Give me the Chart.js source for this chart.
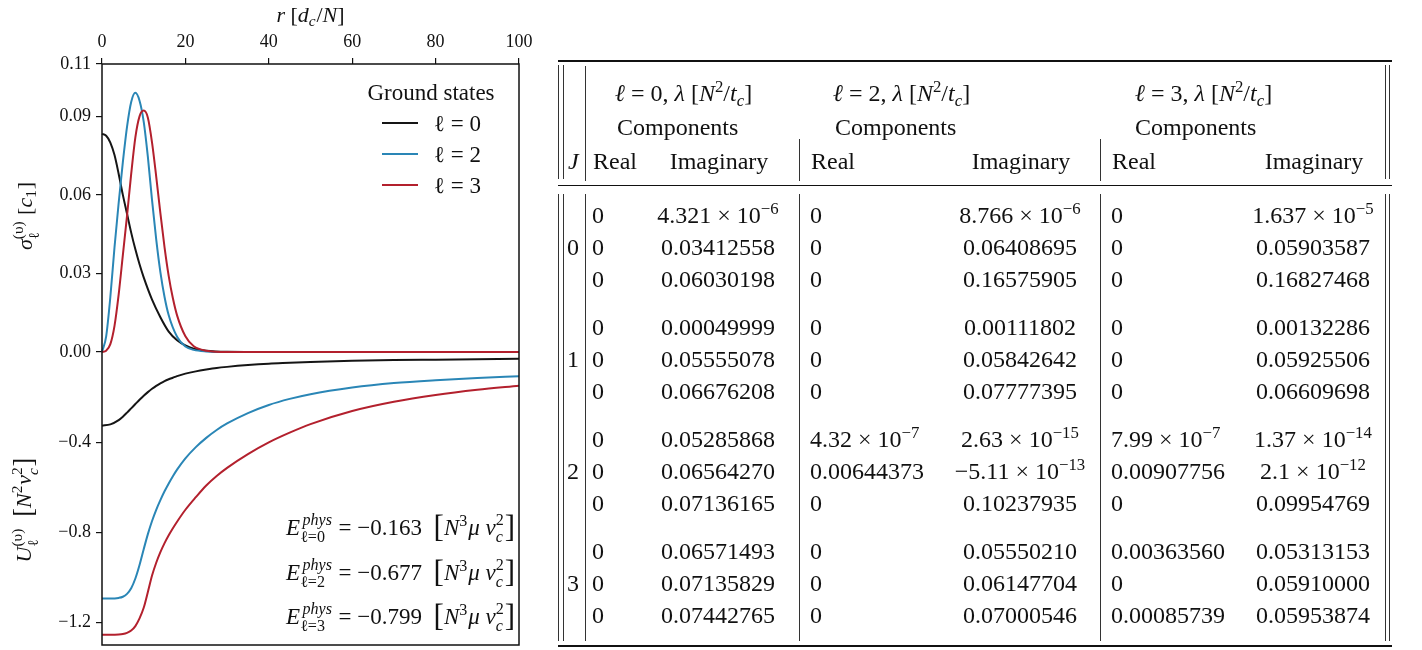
<!DOCTYPE html>
<html><head><meta charset="utf-8">
<script src="https://cdn.jsdelivr.net/npm/chart.js@4.4.1/dist/chart.umd.min.js"></script>
<style>
html,body{margin:0;padding:0;background:#fff;width:1422px;height:650px;overflow:hidden;}
#chartWrap{position:absolute;left:0;top:0;width:540px;height:650px;}
#tbl{position:absolute;left:0;top:0;width:1422px;height:650px;font-family:"Liberation Serif","DejaVu Serif",serif;font-size:24px;color:#111;pointer-events:none;}
.c{position:absolute;white-space:nowrap;height:32px;line-height:32px;}
.hl{position:absolute;background:#111;}
.vl{position:absolute;background:#333;width:1.3px;}
.sp{font-size:70%;position:relative;top:-0.55em;line-height:0;}
.sb{font-size:70%;position:relative;top:0.3em;line-height:0;}
</style></head>
<body>
<div id="chartWrap"><canvas id="c"></canvas></div>
<div id="tbl"></div>
<script>
// ---------- chart data ----------
const rSig0 = [0,1,2,3,4,5,6,7,8,9,10,12,14,16,18,20,22,25,30,40,60,80,100];
const sig0  = [0.0833,0.0826,0.0800,0.0752,0.0680,0.0600,0.0528,0.0456,0.0392,0.0335,0.0285,0.0200,0.0133,0.0078,0.0045,0.0025,0.0013,0.0005,0.0001,0,0,0,0];
const rSig2 = [0,1,2,3,4,5,6,7,8,9,10,11,12,13,14,15,16,18,20,22,25,30,40,60,80,100];
const sig2  = [0,0.0060,0.0210,0.0400,0.0570,0.0725,0.0860,0.0955,0.0990,0.0960,0.0880,0.0745,0.0580,0.0430,0.0305,0.0210,0.0140,0.0058,0.0021,0.0008,0.0002,0,0,0,0,0];
const rSig3 = [0,1,2,3,4,5,6,7,8,9,10,11,12,13,14,15,16,17,18,20,22,25,30,40,60,80,100];
const sig3  = [0,0.0005,0.0030,0.0100,0.0220,0.0370,0.0520,0.0680,0.0820,0.0900,0.0922,0.0895,0.0800,0.0670,0.0530,0.0400,0.0290,0.0205,0.0140,0.0060,0.0022,0.0005,0,0,0,0,0];
const rU = [0,2,4,5,6,7,8,9,10,11,12,13,14,15,16,17,18,20,22.5,25,27.5,30,35,40,45,50,60,70,80,90,100];
const U0 = [-0.327,-0.321,-0.302,-0.287,-0.269,-0.250,-0.231,-0.212,-0.194,-0.178,-0.163,-0.150,-0.139,-0.129,-0.121,-0.114,-0.107,-0.096,-0.086,-0.078,-0.071,-0.066,-0.058,-0.052,-0.048,-0.044,-0.039,-0.036,-0.034,-0.032,-0.030];
const U2 = [-1.094,-1.094,-1.091,-1.086,-1.073,-1.048,-1.005,-0.945,-0.875,-0.808,-0.750,-0.700,-0.657,-0.618,-0.583,-0.551,-0.522,-0.472,-0.422,-0.381,-0.346,-0.317,-0.271,-0.235,-0.208,-0.187,-0.158,-0.138,-0.125,-0.115,-0.108];
const U3 = [-1.254,-1.254,-1.253,-1.251,-1.246,-1.236,-1.216,-1.182,-1.135,-1.065,-0.992,-0.935,-0.888,-0.848,-0.813,-0.782,-0.753,-0.700,-0.644,-0.592,-0.550,-0.514,-0.453,-0.401,-0.358,-0.320,-0.262,-0.221,-0.191,-0.168,-0.150];

const xTicks = [0,20,40,60,80,100];
const sigTicks = [0,0.03,0.06,0.09,0.11];
const sigTickLabels = ['0.00','0.03','0.06','0.09','0.11'];
const uTicks = [-1.2,-0.8,-0.4];
const uTickLabels = ['\u22121.2','\u22120.8','\u22120.4'];
const seriesL = ['0','2','3'];
const energies = ['\u22120.163','\u22120.677','\u22120.799'];
const legendTitle = 'Ground states';

// ---------- table data ----------
const tableJ = ['0','1','2','3'];
const l0Real = [['0','0','0'],['0','0','0'],['0','0','0'],['0','0','0']];
const l0Imag = [['4.321e-6','0.03412558','0.06030198'],['0.00049999','0.05555078','0.06676208'],['0.05285868','0.06564270','0.07136165'],['0.06571493','0.07135829','0.07442765']];
const l2Real = [['0','0','0'],['0','0','0'],['4.32e-7','0.00644373','0'],['0','0','0']];
const l2Imag = [['8.766e-6','0.06408695','0.16575905'],['0.00111802','0.05842642','0.07777395'],['2.63e-15','-5.11e-13','0.10237935'],['0.05550210','0.06147704','0.07000546']];
const l3Real = [['0','0','0'],['0','0','0'],['7.99e-7','0.00907756','0'],['0.00363560','0','0.00085739']];
const l3Imag = [['1.637e-5','0.05903587','0.16827468'],['0.00132286','0.05925506','0.06609698'],['1.37e-14','2.1e-12','0.09954769'],['0.05313153','0.05910000','0.05953874']];
const groupL = ['0','2','3'];

// ---------- chart ----------
const colors = ['#151515','#2a86b6','#b3202d'];
const FF = '"Liberation Serif","DejaVu Serif",serif';
const pts = (xs, ys) => xs.map((x,i)=>({x:x, y:ys[i]}));

function fnt(s,it){return (it?'italic ':'')+s.toFixed(2)+'px '+FF;}
function layoutRich(ctx, parts, size){
  let w=0; const ops=[];
  for(const p of parts){
    if(p.t!==undefined){
      const s=size*(p.k||1);
      ctx.font=fnt(s,p.i);
      const tw=ctx.measureText(p.t).width;
      ops.push({t:p.t,x:w,dy:(p.dy||0)*size,f:ctx.font});
      w+=tw;
    } else {
      const s=size*0.7; let mw=0;
      if(p.sup!==undefined){ctx.font=fnt(s,p.supI);const tw=ctx.measureText(p.sup).width;ops.push({t:p.sup,x:w+(p.supX||0)*size,dy:-size*(p.sub!==undefined?0.42:0.4),f:ctx.font});mw=Math.max(mw,tw+(p.supX||0)*size);}
      if(p.sub!==undefined){ctx.font=fnt(s,p.subI);const tw=ctx.measureText(p.sub).width;ops.push({t:p.sub,x:w,dy:size*(p.sup!==undefined?0.3:0.2),f:ctx.font});mw=Math.max(mw,tw);}
      w+=mw+size*0.04;
    }
  }
  return {w,ops};
}
function drawRich(ctx, parts, x, y, size, align){
  const L=layoutRich(ctx,parts,size);
  const x0 = align==='right'? x-L.w : (align==='center'? x-L.w/2 : x);
  ctx.textAlign='left'; ctx.textBaseline='alphabetic';
  for(const o of L.ops){ctx.font=o.f; ctx.fillText(o.t,x0+o.x,y+o.dy);}
}

const deco = {
  id:'deco',
  afterDraw(chart){
    const ctx=chart.ctx, a=chart.chartArea;
    ctx.save();
    ctx.strokeStyle='#111'; ctx.lineWidth=1.5;
    ctx.strokeRect(a.left,a.top,a.right-a.left,a.bottom-a.top);
    ctx.fillStyle='#111';
    // x title
    drawRich(ctx,[{t:'r',i:1},{t:' ['},{t:'d',i:1},{sub:'c',subI:1},{t:'/'},{t:'N',i:1},{t:']'}],(a.left+a.right)/2,22,22,'center');
    // y titles
    ctx.save(); ctx.translate(32,216); ctx.rotate(-Math.PI/2);
    drawRich(ctx,[{t:'\u03c3',i:1},{sup:'(\u03c5)',sub:'\u2113'},{t:' ['},{t:'c',i:1},{sub:'1'},{t:']'}],0,0,22,'center');
    ctx.restore();
    ctx.save(); ctx.translate(31,510); ctx.rotate(-Math.PI/2);
    drawRich(ctx,[{t:'U',i:1},{sup:'(\u03c5)',sub:'\u2113'},{t:'  '},{t:'[',k:1.2,dy:0.05},{t:'N',i:1},{sup:'2'},{t:'v',i:1},{sup:'2',sub:'c',subI:1},{t:']',k:1.2,dy:0.05}],0,0,22,'center');
    ctx.restore();
    // legend
    ctx.font=fnt(23,false); ctx.textAlign='center'; ctx.textBaseline='alphabetic';
    ctx.fillText(legendTitle,431,100);
    const ly=[123,154,185];
    for(let k=0;k<3;k++){
      ctx.strokeStyle=colors[k]; ctx.lineWidth=2;
      ctx.beginPath(); ctx.moveTo(382,ly[k]); ctx.lineTo(418,ly[k]); ctx.stroke();
      ctx.fillStyle='#111';
      drawRich(ctx,[{t:'\u2113'},{t:' = '+seriesL[k]}],434,ly[k]+8,23,'left');
    }
    // energy annotations
    const ey=[535,580,624];
    for(let k=0;k<3;k++){
      drawRich(ctx,[{t:'E',i:1},{sup:'phys',supI:1,sub:'\u2113='+seriesL[k],supX:0.1},{t:' = '+energies[k]+'  '},{t:'[',k:1.35,dy:0.08},{t:'N',i:1},{sup:'3'},{t:'\u03bc',i:1},{t:' '},{t:'v',i:1},{sup:'2',sub:'c',subI:1},{t:']',k:1.35,dy:0.08}],515,ey[k],23,'right');
    }
    ctx.restore();
  }
};

const tickFont = {family:FF, size:18};
const noPadV = s=>{s.width=102; s.paddingTop=0; s.paddingBottom=0;};
new Chart(document.getElementById('c'),{
  type:'line',
  data:{datasets:[
    {data:pts(rSig3,sig3),borderColor:colors[2],yAxisID:'ySig',order:0},
    {data:pts(rSig2,sig2),borderColor:colors[1],yAxisID:'ySig',order:1},
    {data:pts(rSig0,sig0),borderColor:colors[0],yAxisID:'ySig',order:2},
    {data:pts(rU,U3),borderColor:colors[2],yAxisID:'yU',order:3},
    {data:pts(rU,U2),borderColor:colors[1],yAxisID:'yU',order:4},
    {data:pts(rU,U0),borderColor:colors[0],yAxisID:'yU',order:5}
  ]},
  options:{
    responsive:true, maintainAspectRatio:false, animation:false, devicePixelRatio:1,
    layout:{padding:{left:0,right:21,top:0,bottom:5}},
    plugins:{legend:{display:false},tooltip:{enabled:false}},
    datasets:{line:{clip:false}},
    elements:{point:{radius:0},line:{borderWidth:2,cubicInterpolationMode:'monotone',fill:false}},
    scales:{
      x:{type:'linear',position:'top',min:0,max:100,
         afterBuildTicks:s=>{s.ticks=xTicks.map(v=>({value:v}));},
         ticks:{font:tickFont,color:'#111',padding:5,maxRotation:0,autoSkip:false,callback:v=>String(v)},
         grid:{drawOnChartArea:false,drawTicks:true,tickLength:6,color:'#111',lineWidth:1.2},
         border:{display:false},
         afterFit:s=>{s.height=64; s.paddingLeft=0; s.paddingRight=0;}},
      yU:{type:'linear',position:'left',stack:'v',stackWeight:293,min:-1.3,max:0,
         afterBuildTicks:s=>{s.ticks=uTicks.map(v=>({value:v}));},
         ticks:{font:tickFont,color:'#111',padding:5,autoSkip:false,callback:v=>uTickLabels[uTicks.indexOf(v)]},
         grid:{drawOnChartArea:false,drawTicks:true,tickLength:6,color:'#111',lineWidth:1.2},
         border:{display:false},
         afterFit:noPadV},
      ySig:{type:'linear',position:'left',stack:'v',stackWeight:288,min:0,max:0.11,
         afterBuildTicks:s=>{s.ticks=sigTicks.map(v=>({value:v}));},
         ticks:{font:tickFont,color:'#111',padding:5,autoSkip:false,callback:v=>sigTickLabels[sigTicks.indexOf(v)]},
         grid:{drawOnChartArea:false,drawTicks:true,tickLength:6,color:'#111',lineWidth:1.2},
         border:{display:false},
         afterFit:noPadV}
    }
  },
  plugins:[deco]
});

// ---------- table ----------
const T=document.getElementById('tbl');
function fmt(s){
  const m=s.match(/^(-?)([0-9.]+)e(-?\d+)$/);
  if(!m) return s;
  return (m[1]?'\u2212':'')+m[2]+' \u00d7 10<span class="sp">'+(m[3][0]==='-'?'\u2212'+m[3].slice(1):m[3])+'</span>';
}
function cell(html,x,yc,align,w){
  const d=document.createElement('div'); d.className='c'; d.innerHTML=html;
  d.style.top=(yc-16)+'px';
  if(align==='center'){d.style.left=(x-w/2)+'px'; d.style.width=w+'px'; d.style.textAlign='center';}
  else d.style.left=x+'px';
  T.appendChild(d);
}
function hl(x,y,w,h){const d=document.createElement('div');d.className='hl';Object.assign(d.style,{left:x+'px',top:y+'px',width:w+'px',height:h+'px'});T.appendChild(d);}
function vl(x,y1,y2){const d=document.createElement('div');d.className='vl';Object.assign(d.style,{left:x+'px',top:y1+'px',height:(y2-y1)+'px'});T.appendChild(d);}

hl(558,59.5,834,2.4); hl(558,185,834,1.4); hl(558,645,834,2.4);
[557.8,562.6,1384.6,1388.8].forEach(x=>{vl(x,65,179);vl(x,194,641);});
vl(585.2,66,181); vl(585.2,194,641);
[799,1100].forEach(x=>{vl(x,139,181);vl(x,194,641);});

const grpHeadX=[615,833,1135], compX=[617,835,1135];
const realX=[592,810,1111], imagC=[718,1020,1313];
for(let g=0;g<3;g++){
  cell('<i>\u2113</i> = '+groupL[g]+', <i>\u03bb</i> [<i>N</i><span class="sp">2</span>/<i>t</i><span class="sb"><i>c</i></span>]',grpHeadX[g],93,'left');
  cell('Components',compX[g],127,'left');
  cell('Real',realX[g]+1,161,'left');
  cell('Imaginary',imagC[g]+1,161,'center',170);
}
cell('<i>J</i>',568,161,'left');
const reals=[l0Real,l2Real,l3Real], imags=[l0Imag,l2Imag,l3Imag];
const groupY=[215,327,439,551];
for(let j=0;j<4;j++){
  cell(tableJ[j],567,groupY[j]+32,'left');
  for(let r=0;r<3;r++){
    const y=groupY[j]+32*r;
    for(let g=0;g<3;g++){
      cell(fmt(reals[g][j][r]),realX[g],y,'left');
      cell(fmt(imags[g][j][r]),imagC[g],y,'center',170);
    }
  }
}
</script>
</body></html>
